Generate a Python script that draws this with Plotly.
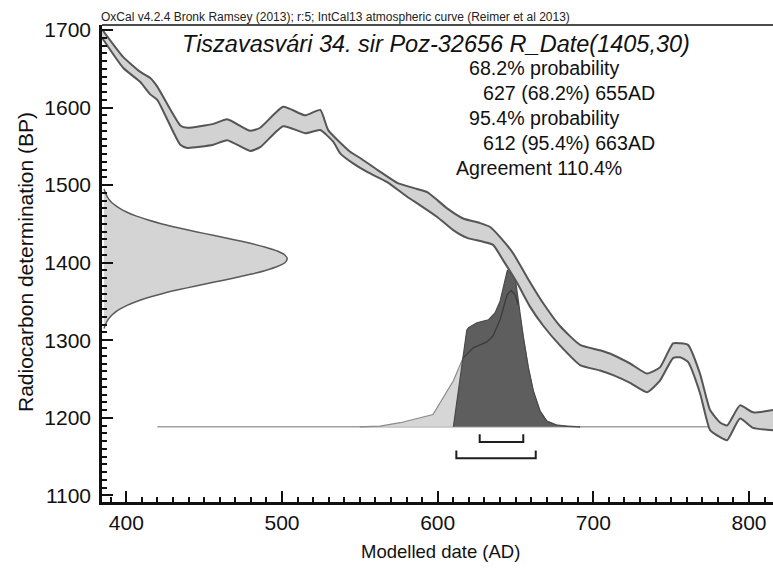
import plotly.graph_objects as go

# ---- calibration curve (IntCal13 band), calendar year AD vs 14C age BP ----
curve_upper_year = [384.4, 398.1, 409.0, 415.4, 419.9, 434.7, 439.2, 455.9, 464.8, 479.6, 486.0,
                    500.8, 514.9, 524.6, 529.7, 543.8, 550.2, 561.8, 574.0, 586.8, 593.3, 598.4,
                    606.1, 616.4, 627.3, 633.7, 640.1, 648.5, 657.5, 667.7, 678.7, 691.5, 704.3,
                    712.7, 723.6, 734.5, 742.8, 751.2, 755.7, 760.8, 768.5, 775.0, 781.4, 785.9,
                    794.2, 802.6, 815.4]
curve_upper_bp = [1701, 1665, 1646, 1638, 1627, 1577, 1574, 1579, 1585, 1570, 1574,
                  1601, 1590, 1597, 1571, 1543, 1535, 1519, 1503, 1495, 1491, 1483,
                  1470, 1457, 1451, 1446, 1433, 1412, 1381, 1348, 1318, 1294, 1287,
                  1281, 1270, 1257, 1265, 1296, 1296, 1294, 1257, 1210, 1194, 1190,
                  1216, 1207, 1210]

curve_lower_year = [384.4, 398.1, 409.0, 415.4, 419.9, 434.7, 439.2, 455.9, 464.8, 479.6, 486.0,
                    500.8, 514.9, 524.6, 532.9, 537.4, 545.7, 554.7, 567.6, 580.4, 588.8, 599.7,
                    610.0, 618.9, 629.2, 635.6, 642.1, 651.0, 659.4, 667.7, 678.7, 691.5, 704.3,
                    712.7, 723.6, 734.5, 742.8, 751.2, 755.7, 760.8, 768.5, 775.0, 781.4, 785.9,
                    794.2, 802.6, 815.4]
curve_lower_bp = [1690, 1651, 1633, 1617, 1610, 1552, 1548, 1552, 1558, 1544, 1549,
                  1576, 1567, 1571, 1556, 1541, 1528, 1517, 1504, 1485, 1474, 1459,
                  1442, 1432, 1427, 1423, 1403, 1374, 1343, 1319, 1293, 1268, 1261,
                  1255, 1245, 1233, 1248, 1277, 1278, 1272, 1232, 1184, 1175, 1171,
                  1199, 1187, 1184]

# ---- measured date R_Date(1405,30): density on the BP axis (width in years) ----
gauss_bp = [1495, 1490, 1485, 1480, 1475, 1470, 1465, 1460, 1455, 1450, 1445, 1440,
            1435, 1430, 1425, 1420, 1415, 1410, 1405, 1400, 1395, 1390, 1385, 1380,
            1375, 1370, 1365, 1360, 1355, 1350, 1345, 1340, 1335, 1330, 1325, 1320, 1315]
gauss_width = [1.3, 2.2, 3.4, 5.2, 7.8, 11.4, 16.1, 22.2, 29.7, 38.6, 48.9, 60.3,
               72.2, 84.1, 95.3, 105, 112.6, 117.4, 119, 117.4, 112.6, 105, 95.3, 84.1,
               72.2, 60.3, 48.9, 38.6, 29.7, 22.2, 16.1, 11.4, 7.8, 5.2, 3.4, 2.2, 1.3]

# ---- calibrated (prior) and modelled (posterior) distributions ----
prior_year = [550, 563, 576, 584, 592, 597, 603.5, 610, 616.4, 622.8, 631.6, 635.6,
              640.1, 644.6, 647.2, 649.8, 651.7, 655.1, 658.3, 661.5, 665.8, 670.1,
              676.5, 691.5]
prior_prob = [0, 0.004, 0.026, 0.045, 0.064, 0.078, 0.185, 0.292, 0.44, 0.504, 0.542, 0.581,
              0.683, 0.842, 0.870, 0.842, 0.779, 0.555, 0.37, 0.223, 0.099, 0.036,
              0.01, 0]

post_year = [610.1, 618.7, 619.8, 625.2, 632.6, 636.9, 640.1, 644.8, 649.8, 651.9,
             655.1, 658.3, 661.5, 665.8, 670.1, 676.5, 683.1, 691.5]
post_prob = [0, 0.617, 0.632, 0.664, 0.683, 0.728, 0.802, 1.0, 0.951, 0.802,
             0.568, 0.377, 0.228, 0.1, 0.036, 0.011, 0.003, 0]

# highest posterior density ranges (AD)
range_68 = [(627, 655)]
range_95 = [(612, 663)]

# distribution extent along the date axis
dist_span = [420, 790]

x_ticks = [400, 500, 600, 700, 800]
y_ticks = [1100, 1200, 1300, 1400, 1500, 1600, 1700]

header_text = "OxCal v4.2.4 Bronk Ramsey (2013); r:5; IntCal13 atmospheric curve (Reimer et al 2013)"
title_text = "Tiszavasvári 34. sir Poz-32656 R_Date(1405,30)"
stats_lines = ["68.2% probability", "627 (68.2%) 655AD", "95.4% probability",
               "612 (95.4%) 663AD", "Agreement 110.4%"]

# ---- drawing geometry ----
X_RANGE = [384.4, 815.4]
Y_RANGE = [1091.4, 1706.5]
BASE = 1188.4          # baseline of the date distributions (BP units)
PEAK_H = 202.0         # height of a unit-probability peak (BP units)
FONT = "Liberation Sans, Arial, Helvetica, sans-serif"

W, H = 773, 570
ML, MR, MT, MB = 102, 0, 25, 68
PW, PH = W - ML - MR, H - MT - MB


def px(x, y):
    """pixel position -> paper coordinates"""
    return (x - ML) / PW, (H - MB - y) / PH


fig = go.Figure()

# baseline of the distributions
fig.add_trace(go.Scatter(x=dist_span, y=[BASE, BASE], mode="lines",
                         line=dict(color="#a0a0a0", width=1.5), hoverinfo="skip"))

# prior (unmodelled) distribution
prior_y = [BASE + p * PEAK_H for p in prior_prob]
fig.add_trace(go.Scatter(x=prior_year, y=prior_y, mode="lines", fill="toself",
                         fillcolor="#d6d6d6", line=dict(color="#8a8a8a", width=1.2),
                         hoverinfo="skip"))

# posterior (modelled) distribution
post_y = [BASE + p * PEAK_H for p in post_prob]
fig.add_trace(go.Scatter(x=post_year, y=post_y, mode="lines", fill="toself",
                         fillcolor="#5e5e5e", line=dict(color="#4a4a4a", width=1.2),
                         hoverinfo="skip"))

# prior outline seen through the posterior
inner = [(x, y) for x, y in zip(prior_year, prior_y) if post_year[1] - 3 <= x <= 652.5]
fig.add_trace(go.Scatter(x=[p[0] for p in inner], y=[p[1] for p in inner], mode="lines",
                         line=dict(color="#3c3c3c", width=1.3), hoverinfo="skip"))

# measured 14C date on the y axis
fig.add_trace(go.Scatter(x=[X_RANGE[0] + w for w in gauss_width], y=gauss_bp,
                         mode="lines", fill="toself", fillcolor="#d4d4d4",
                         line=dict(color="#5a5a5a", width=1.5, shape="spline", smoothing=0.6),
                         hoverinfo="skip"))

# calibration curve band
fig.add_trace(go.Scatter(x=curve_upper_year + curve_lower_year[::-1],
                         y=curve_upper_bp + curve_lower_bp[::-1],
                         mode="lines", fill="toself", fillcolor="#d2d2d2",
                         line=dict(width=0, shape="spline", smoothing=0.5), hoverinfo="skip"))
for xs, ys in ((curve_upper_year, curve_upper_bp), (curve_lower_year, curve_lower_bp)):
    fig.add_trace(go.Scatter(x=xs, y=ys, mode="lines",
                             line=dict(color="#555555", width=2, shape="spline", smoothing=0.5),
                             hoverinfo="skip"))

# range brackets below the distributions
def bracket(ranges, level, tick):
    bx, by = [], []
    for a, b in ranges:
        bx += [a, a, b, b, None]
        by += [level + tick, level, level, level + tick, None]
    return bx, by

for rng, off in ((range_68, 19.5), (range_95, 40.5)):
    bx, by = bracket(rng, BASE - off, 10)
    fig.add_trace(go.Scatter(x=bx, y=by, mode="lines",
                             line=dict(color="#1e1e1e", width=2), hoverinfo="skip"))

# top frame line
fig.add_shape(type="line", xref="paper", yref="paper", x0=0, x1=1, y0=1, y1=1,
              line=dict(color="#111111", width=1.5))

ann = []
x0, y0 = px(99, 17.5)
ann.append(dict(text=header_text, x=x0, y=y0, xanchor="left", yanchor="middle",
                font=dict(size=12, color="#222222")))
x0, y0 = px(436, 44)
ann.append(dict(text="<i>" + title_text + "</i>", x=x0, y=y0, xanchor="center",
                yanchor="middle", font=dict(size=23.5, color="#111111")))
stat_pos = [(467, 68), (481, 93), (467, 118), (481, 143), (454, 168)]
for t, (sx, sy) in zip(stats_lines, stat_pos):
    x0, y0 = px(sx, sy)
    ann.append(dict(text=t, x=x0, y=y0, xanchor="left", yanchor="middle",
                    font=dict(size=19.6, color="#111111")))
x0, y0 = px(440, 551)
ann.append(dict(text="Modelled date (AD)", x=x0, y=y0, xanchor="center", yanchor="middle",
                font=dict(size=18.5, color="#111111")))
x0, y0 = px(25, 262)
ann.append(dict(text="Radiocarbon determination (BP)", x=x0, y=y0, xanchor="center",
                yanchor="middle", textangle=-90, font=dict(size=21, color="#111111")))
for a in ann:
    a.update(xref="paper", yref="paper", showarrow=False)

axis_common = dict(showgrid=False, zeroline=False, showline=True, linecolor="#111111",
                   linewidth=2.5, ticks="inside", ticklen=11, tickwidth=2,
                   tickcolor="#111111", tickfont=dict(size=21, color="#111111"),
                   fixedrange=True)

fig.update_layout(
    width=W, height=H,
    margin=dict(l=ML, r=MR, t=MT, b=MB),
    paper_bgcolor="white", plot_bgcolor="white",
    showlegend=False,
    font=dict(family=FONT, color="#111111"),
    annotations=ann,
    xaxis=dict(range=X_RANGE, tickvals=x_ticks, ticktext=[str(v) for v in x_ticks],
               minor=dict(ticks="inside", ticklen=5, tickwidth=1.5, dtick=10, tick0=0,
                          tickcolor="#111111"),
               **axis_common),
    yaxis=dict(range=Y_RANGE, tickvals=y_ticks, ticktext=[str(v) for v in y_ticks],
               minor=dict(ticks="inside", ticklen=5, tickwidth=1.5, dtick=10, tick0=0,
                          tickcolor="#111111"),
               ticklabelstandoff=4,
               **axis_common),
)

fig.write_html("out.html")
